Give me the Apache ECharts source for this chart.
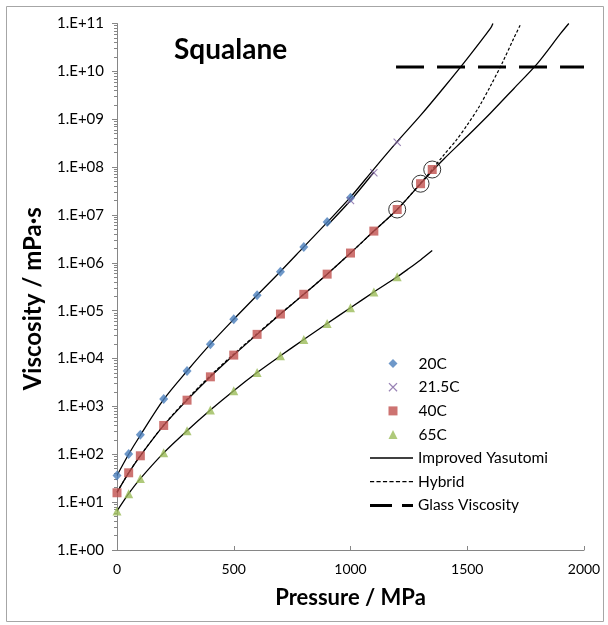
<!DOCTYPE html>
<html>
<head>
<meta charset="utf-8">
<script src="https://cdn.jsdelivr.net/npm/echarts@6/dist/echarts.min.js"></script>
<style>
html,body{margin:0;padding:0;background:#fff;}
#chart{width:608px;height:625px;}
</style>
</head>
<body>
<div id="chart"></div>
<script>
// ---- measured data (Pressure MPa, Viscosity mPa·s) ----
const p20 = [0, 50, 100, 200, 300, 400, 500, 600, 700, 800, 900, 1000];
const v20 = [36, 101, 255, 1420, 5500, 2.0e4, 6.6e4, 2.1e5, 6.5e5, 2.15e6, 7.1e6, 2.3e7];

const p215 = [1000, 1100, 1200];
const v215 = [2.0e7, 7.6e7, 3.3e8];

const p40 = [0, 50, 100, 200, 300, 400, 500, 600, 700, 800, 900, 1000, 1100, 1200, 1300, 1350];
const v40 = [15.7, 41, 93, 400, 1350, 4150, 1.18e4, 3.2e4, 8.5e4, 2.2e5, 5.8e5, 1.6e6, 4.6e6, 1.3e7, 4.5e7, 8.9e7];

const p65 = [0, 50, 100, 200, 300, 400, 500, 600, 700, 800, 900, 1000, 1100, 1200];
const v65 = [6.5, 15, 31, 107, 310, 840, 2130, 5100, 1.14e4, 2.5e4, 5.4e4, 1.15e5, 2.45e5, 5.1e5];

// circled points (40C)
const pCircled = [1200, 1300, 1350];
const vCircled = [1.3e7, 4.5e7, 8.9e7];

// ---- model curves ----
const pY20 = [0, 50, 100, 200, 300, 400, 500, 600, 700, 800, 900, 1000, 1100, 1200, 1300, 1400, 1500, 1600, 1610];
const vY20 = [36, 100, 250, 1400, 5500, 2.0e4, 6.6e4, 2.1e5, 6.6e5, 2.15e6, 7.0e6, 2.35e7, 9.1e7, 3.4e8, 1.2e9, 4.6e9, 1.85e10, 8.0e10, 1.0e11];

const pY215 = [900, 1000, 1100];
const vY215 = [6.0e6, 2.0e7, 7.8e7];

const pY40 = [0, 50, 100, 200, 300, 400, 500, 600, 700, 800, 900, 1000, 1100, 1200, 1300, 1350, 1400, 1500, 1600, 1700, 1800, 1900, 1935];
const vY40 = [16, 41, 93, 400, 1350, 4150, 1.18e4, 3.2e4, 8.5e4, 2.2e5, 5.8e5, 1.6e6, 4.6e6, 1.3e7, 4.5e7, 8.3e7, 1.48e8, 4.4e8, 1.35e9, 4.4e9, 1.45e10, 6.2e10, 1.0e11];

const pY65 = [0, 50, 100, 200, 300, 400, 500, 600, 700, 800, 900, 1000, 1100, 1200, 1250, 1300, 1350];
const vY65 = [6.5, 15, 31, 107, 310, 840, 2130, 5100, 1.14e4, 2.5e4, 5.4e4, 1.15e5, 2.45e5, 5.1e5, 7.6e5, 1.15e6, 1.8e6];

const pHyb = [0, 50, 100, 200, 300, 400, 500, 600, 700, 800, 900, 1000, 1100, 1200, 1300, 1350, 1400, 1450, 1500, 1550, 1600, 1650, 1700, 1730];
const vHyb = [16, 41, 94, 405, 1420, 4400, 1.24e4, 3.3e4, 8.7e4, 2.2e5, 5.8e5, 1.6e6, 4.6e6, 1.3e7, 4.6e7, 8.9e7, 1.8e8, 3.5e8, 7.6e8, 1.8e9, 5.0e9, 1.5e10, 5.0e10, 1.0e11];

const pGlass = [1195, 2000];
const vGlass = [1.23e10, 1.23e10];

// axis ticks
const xTicks = [0, 500, 1000, 1500, 2000];
const yDecades = [1, 1e1, 1e2, 1e3, 1e4, 1e5, 1e6, 1e7, 1e8, 1e9, 1e10, 1e11];

// ---- helpers ----
// the vertical axis is a decade (log10) axis: values are converted to exponents for it
const lg = v => Math.log10(v);
const zip = (xs, ys) => xs.map((x, i) => [x, lg(ys[i])]);
const yMinE = lg(yDecades[0]), yMaxE = lg(yDecades[yDecades.length - 1]);
const minorVals = [];
for (let e = yMinE; e < yMaxE; e++) for (let m = 2; m <= 9; m++) minorVals.push(e + Math.log10(m));

const FONT = 'Lato, "Open Sans", sans-serif';
const crossPath = 'path://M0,1 L1,0 L5,4 L9,0 L10,1 L6,5 L10,9 L9,10 L5,6 L1,10 L0,9 L4,5 Z';
// legend icons for the curve series
const solidIcon = 'path://M0,0 H43 V1.3 H0 Z';
let dashIcon = 'path://';
for (let x = 0; x < 43; x += 6.2) dashIcon += 'M' + x + ',0 H' + Math.min(x + 4, 43) + ' V1.2 H' + x + ' Z ';
const glassIcon = 'path://M0,0 H22 V3 H0 Z M32,0 H43 V3 H32 Z';

const chart = echarts.init(document.getElementById('chart'), null, {renderer: 'canvas'});

const lineBase = (name, data, extra) => Object.assign({
  name: name,
  type: 'line',
  data: data,
  showSymbol: false,
  symbol: 'none',
  smooth: 0.3,
  lineStyle: {color: '#000', width: 1.3},
  itemStyle: {color: '#000'},
  z: 2,
  silent: true,
  animation: false
}, extra || {});

const legendText = {fontFamily: FONT, fontSize: 15.5, color: '#000', lineHeight: 16};

const option = {
  animation: false,
  backgroundColor: '#fff',
  title: {
    text: 'Squalane',
    left: 169,
    top: 31,
    textStyle: {fontFamily: FONT, fontWeight: 'bold', fontSize: 28, color: '#000'}
  },
  graphic: [{
    type: 'rect',
    shape: {x: 6.5, y: 6.5, width: 597, height: 615},
    style: {fill: 'none', stroke: '#a6a6a6', lineWidth: 1},
    silent: true,
    z: -10
  }],
  legend: [{
    orient: 'vertical',
    left: 383.5,
    top: 350.5,
    itemWidth: 9,
    itemHeight: 9,
    itemGap: 7.7,
    textStyle: Object.assign({padding: [0, 0, 0, 16]}, legendText),
    data: [
      {name: '20C', icon: 'diamond'},
      {name: '21.5C', icon: crossPath},
      {name: '40C', icon: 'rect'},
      {name: '65C', icon: 'triangle'}
    ],
    selectedMode: false
  }, {
    orient: 'vertical',
    left: 365,
    top: 445,
    itemWidth: 43,
    itemHeight: 9,
    itemGap: 7.7,
    textStyle: legendText,
    data: [
      {name: 'Improved Yasutomi', icon: solidIcon},
      {name: 'Hybrid', icon: dashIcon},
      {name: 'Glass Viscosity', icon: glassIcon}
    ],
    selectedMode: false
  }],
  grid: {left: 117, right: 24, top: 23.5, bottom: 75, containLabel: false},
  xAxis: {
    type: 'value',
    min: xTicks[0],
    max: xTicks[xTicks.length - 1],
    interval: 500,
    name: 'Pressure / MPa',
    nameLocation: 'middle',
    nameGap: 37,
    nameTextStyle: {fontFamily: FONT, fontWeight: 'bold', fontSize: 22, color: '#000'},
    axisLine: {show: true, lineStyle: {color: '#868686', width: 1}},
    axisTick: {show: true, inside: true, length: 4, lineStyle: {color: '#868686'}},
    axisLabel: {fontFamily: FONT, fontSize: 14, color: '#000', margin: 12, formatter: v => String(v)},
    splitLine: {show: false}
  },
  yAxis: [{
    type: 'value',
    min: yMinE,
    max: yMaxE,
    interval: 1,
    name: 'Viscosity / mPa·s',
    nameLocation: 'middle',
    nameGap: 72,
    nameRotate: 90,
    nameTextStyle: {fontFamily: FONT, fontWeight: 'bold', fontSize: 24, color: '#000', padding: [0, 24, 0, 0]},
    axisLine: {show: true, lineStyle: {color: '#868686', width: 1}},
    axisTick: {show: true, inside: false, length: 5, lineStyle: {color: '#868686'}},
    axisLabel: {
      fontFamily: FONT, fontSize: 15, color: '#000', margin: 13,
      formatter: e => '1.E+' + String(Math.round(e)).padStart(2, '0')
    },
    splitLine: {show: false}
  }, {
    type: 'value',
    min: yMinE,
    max: yMaxE,
    position: 'left',
    axisLine: {show: false},
    axisLabel: {show: false, customValues: minorVals},
    splitLine: {show: false},
    axisTick: {show: true, inside: false, length: 3, lineStyle: {color: '#868686'}, customValues: minorVals}
  }],
  series: [
    lineBase('Improved Yasutomi', zip(pY20, vY20)),
    lineBase('Improved Yasutomi', zip(pY215, vY215)),
    lineBase('Improved Yasutomi', zip(pY40, vY40)),
    lineBase('Improved Yasutomi', zip(pY65, vY65)),
    lineBase('Hybrid', zip(pHyb, vHyb), {lineStyle: {color: '#000', width: 1.2, type: [3, 2]}}),
    lineBase('Glass Viscosity', zip(pGlass, vGlass), {smooth: false, lineStyle: {color: '#000', width: 3, type: [28, 13]}}),
    {
      name: '20C', type: 'scatter', data: zip(p20, v20),
      symbol: 'diamond', symbolSize: [9, 10],
      itemStyle: {color: '#4A7EBB'}, z: 4, animation: false
    },
    {
      name: '21.5C', type: 'scatter', data: zip(p215, v215),
      symbol: crossPath, symbolSize: 8,
      itemStyle: {color: '#8064A2'}, z: 4, animation: false
    },
    {
      name: '40C', type: 'scatter', data: zip(p40, v40),
      symbol: 'rect', symbolSize: 9,
      itemStyle: {color: '#C0504D'}, z: 4, animation: false
    },
    {
      name: '65C', type: 'scatter', data: zip(p65, v65),
      symbol: 'triangle', symbolSize: 9,
      itemStyle: {color: '#9BBB59'}, z: 4, animation: false
    },
    {
      name: 'circled', type: 'scatter', data: zip(pCircled, vCircled),
      symbol: 'circle', symbolSize: 17,
      itemStyle: {color: 'rgba(0,0,0,0)', borderColor: '#000', borderWidth: 1},
      z: 5, animation: false
    }
  ]
};
chart.setOption(option);
</script>
</body>
</html>
